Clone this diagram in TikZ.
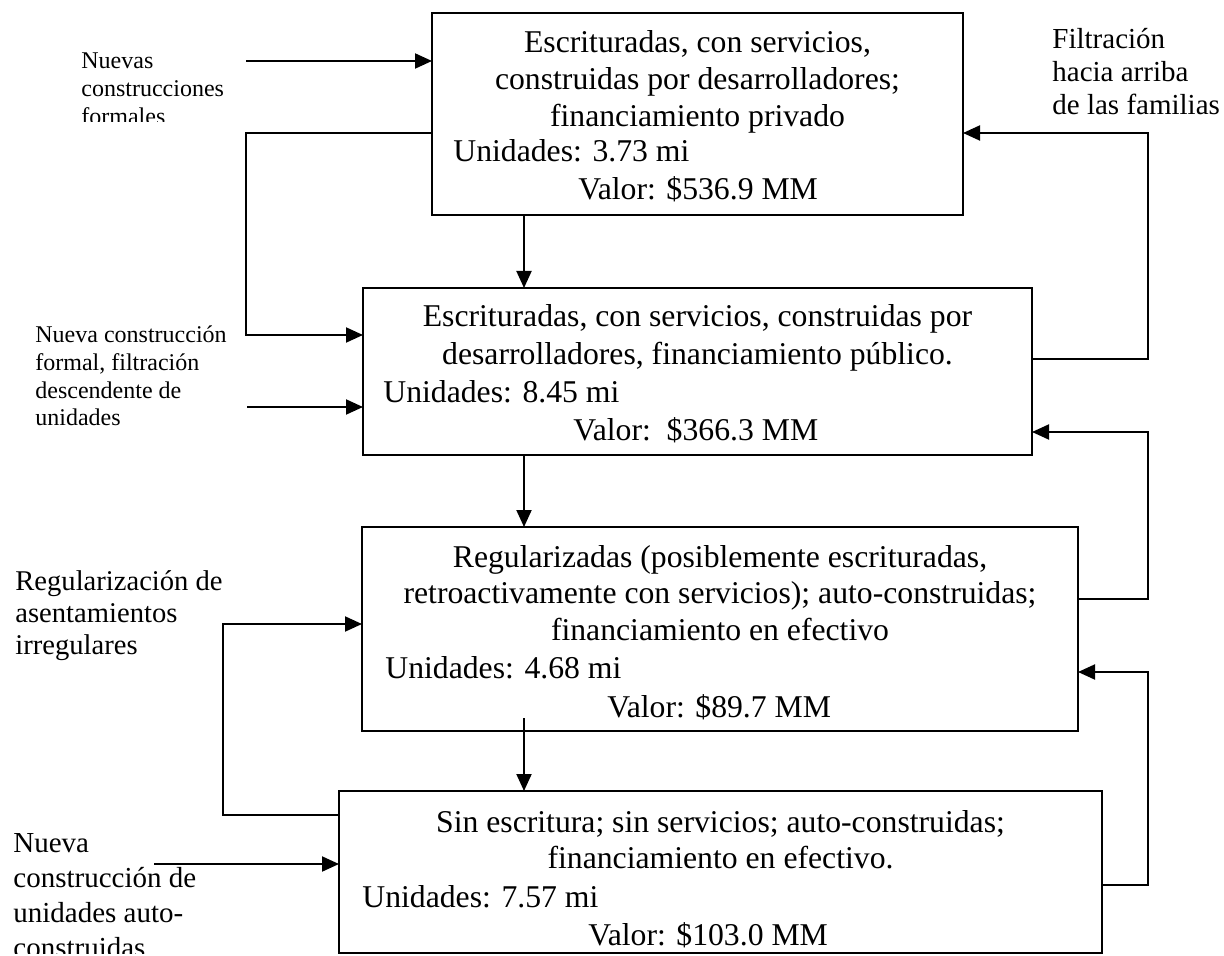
\documentclass[tikz,border=0pt]{standalone}
\usepackage{fontspec}
\setmainfont{Liberation Serif}
\usetikzlibrary{arrows.meta}
\begin{document}
\begin{tikzpicture}[x=0.5pt,y=-0.5pt,
  conn/.style={line width=1pt},
  arr/.style={conn,-{Triangle[length=8.5pt,width=7.5pt]}},
  boxst/.style={draw,line width=1pt,inner sep=0pt,outer sep=0pt,anchor=north west},
  btxt/.style={inner sep=0pt,font=\fontsize{15.85pt}{18.5pt}\selectfont},
  lbl/.style={inner sep=0pt,anchor=base west}
]
\useasboundingbox (0,0) rectangle (1224,956);

% boxes
\node[boxst,minimum width=265.5pt,minimum height=101pt] (b1) at (432,13) {};
\node[boxst,minimum width=334.5pt,minimum height=83.5pt] (b2) at (363,288) {};
\node[boxst,minimum width=358pt,minimum height=102pt] (b3) at (362,527) {};
\node[boxst,minimum width=381.5pt,minimum height=81pt] (b4) at (339,791) {};

% box texts
\node[btxt,anchor=base] (t1a) at (697.5,53) {Escrituradas, con servicios,};
\node[btxt,anchor=base] (t1b) at (697.5,90) {construidas por desarrolladores;};
\node[btxt,anchor=base] (t1c) at (697.5,127) {financiamiento privado};
\node[btxt,anchor=base west] (t1d) at (453,162) {Unidades: 3.73 mi};
\node[btxt,anchor=base west] (t1e) at (578,200) {Valor: \$536.9 MM};

\node[btxt,anchor=base] (t2a) at (697.5,327) {Escrituradas, con servicios, construidas por};
\node[btxt,anchor=base] (t2b) at (697.5,365) {desarrolladores, financiamiento público.};
\node[btxt,anchor=base west] (t2c) at (383,402) {Unidades: 8.45 mi};
\node[btxt,anchor=base west] (t2d) at (573,440) {Valor:\ \ \$366.3 MM};

\node[btxt,anchor=base] (t3a) at (720,567) {Regularizadas (posiblemente escrituradas,};
\node[btxt,anchor=base] (t3b) at (720,603) {retroactivamente con servicios); auto-construidas;};
\node[btxt,anchor=base] (t3c) at (720,640) {financiamiento en efectivo};
\node[btxt,anchor=base west] (t3d) at (385,678) {Unidades: 4.68 mi};
\node[btxt,anchor=base west] (t3e) at (607,717) {Valor: \$89.7 MM};

\node[btxt,anchor=base] (t4a) at (720.5,832) {Sin escritura; sin servicios; auto-construidas;};
\node[btxt,anchor=base] (t4b) at (720.5,868) {financiamiento en efectivo.};
\node[btxt,anchor=base west] (t4c) at (362,907) {Unidades: 7.57 mi};
\node[btxt,anchor=base west] (t4d) at (588,945) {Valor: \$103.0 MM};

% side labels
\begin{scope}
\clip (0,0) rectangle (300,121.5);
\node[lbl,font=\fontsize{12pt}{13.9pt}\selectfont] (n1) at (81,69)
  {\parbox[t]{150pt}{\raggedright Nuevas\\construcciones\\formales}};
\end{scope}
\node[lbl,font=\fontsize{12pt}{13.8pt}\selectfont] (n2) at (35,343)
  {\parbox[t]{150pt}{\raggedright Nueva construcción\\formal, filtración\\descendente de\\unidades}};
\node[lbl,font=\fontsize{14.3pt}{16pt}\selectfont] (n3) at (15,590)
  {\parbox[t]{150pt}{\raggedright Regularización de\\asentamientos\\irregulares}};
\begin{scope}
\clip (0,0) rectangle (338,953);
\node[lbl,font=\fontsize{14.5pt}{17.5pt}\selectfont] (n4) at (13,852)
  {\parbox[t]{150pt}{\raggedright Nueva\\construcción de\\unidades auto-\\construidas}};
\end{scope}
\node[lbl,font=\fontsize{14.5pt}{16.5pt}\selectfont] (n5) at (1052,49)
  {\parbox[t]{150pt}{\raggedright Filtración\\hacia arriba\\de las familias}};

% coordinates for connectors
\coordinate (in1) at (246,61);
\coordinate (in2) at (247,407);
\coordinate (in3) at (154,864);
\coordinate (L1a) at (246,133);
\coordinate (L1b) at (246,335);
\coordinate (L2a) at (223,815);
\coordinate (L2b) at (223,624);
\coordinate (R1a) at (1148,359);
\coordinate (R1b) at (1148,133);
\coordinate (R2a) at (1148,599);
\coordinate (R2b) at (1148,432);
\coordinate (R3a) at (1148,885);
\coordinate (R3b) at (1148,672);
\coordinate (v1) at (524,0);
\coordinate (v3s) at (524,718);

% left connectors
\draw[arr] (in1) -- (in1 -| b1.west);
\draw[arr] (L1a -| b1.west) -- (L1a) -- (L1b) -- (L1b -| b2.west);
\draw[arr] (in2) -- (in2 -| b2.west);
\draw[arr] (L2a -| b4.west) -- (L2a) -- (L2b) -- (L2b -| b3.west);
\draw[arr] (in3) -- (in3 -| b4.west);

% vertical connectors
\draw[arr] (v1 |- b1.south) -- (v1 |- b2.north);
\draw[arr] (v1 |- b2.south) -- (v1 |- b3.north);
\draw[arr] (v3s) -- (v3s |- b4.north);

% right connectors
\draw[arr] (R1a -| b2.east) -- (R1a) -- (R1b) -- (R1b -| b1.east);
\draw[arr] (R2a -| b3.east) -- (R2a) -- (R2b) -- (R2b -| b2.east);
\draw[arr] (R3a -| b4.east) -- (R3a) -- (R3b) -- (R3b -| b3.east);
\end{tikzpicture}
\end{document}
